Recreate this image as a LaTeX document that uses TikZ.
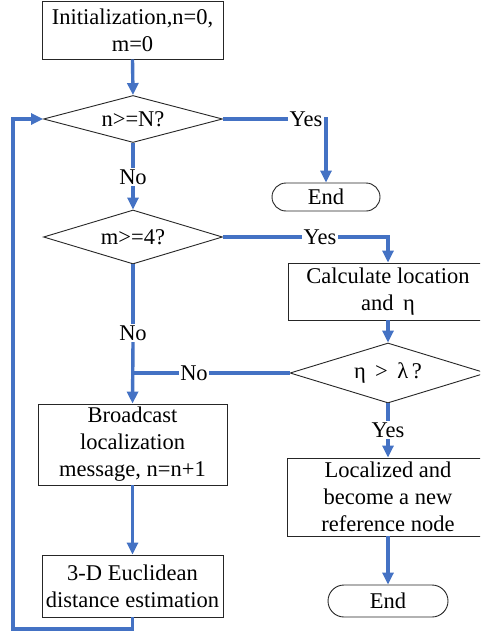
\documentclass[tikz,border=0pt]{standalone}
\usepackage{fontspec}
\setmainfont{Liberation Serif}
\usetikzlibrary{shapes.geometric,shapes.misc,arrows.meta}
\definecolor{flowblue}{RGB}{68,114,196}
\begin{document}
\begin{tikzpicture}[x=1pt,y=-1pt,
  every node/.style={font=\fontsize{22.5}{27}\selectfont, inner sep=0pt},
  procbox/.style={draw=black!85, line width=0.9pt, rectangle, align=center},
  decbox/.style={draw=black!85, line width=0.9pt, diamond, aspect=3.5},
  termbox/.style={draw=black!85, line width=0.9pt, rounded rectangle},
  lbl/.style={fill=white, inner sep=1.5pt},
  flow/.style={draw=flowblue, line width=3.4pt, line join=miter},
  arr/.style={flow, -{Triangle[length=12pt,width=11pt]}}
]
\useasboundingbox (0,0) rectangle (480,634);
\clip (0,0) rectangle (480,634);
\fill[white] (0,0) rectangle (480,634);

% nodes
\node[procbox, minimum width=181pt, minimum height=58pt] (init) at (132.5,30) {Initialization,n=0,\\m=0};
\node[decbox, minimum width=179pt, minimum height=47pt] (d1) at (133,119) {n>=N?};
\node[decbox, minimum width=179pt, minimum height=54pt] (d2) at (133,237) {m>=4?};
\node[termbox, minimum width=108pt, minimum height=28pt] (end1) at (326,197) {End};
\node[procbox, minimum width=200pt, minimum height=57pt] (calc) at (388,291.5) {Calculate location\\and \,η};
\node[decbox, minimum width=196pt, minimum height=60pt] (d3) at (388,373) {η \,>\, λ\,?};
\node[procbox, minimum width=189pt, minimum height=81pt] (bc) at (132.5,444.5) {Broadcast\\localization\\message, n=n+1};
\node[procbox, minimum width=181pt, minimum height=62pt] (ed) at (132.5,586) {3-D Euclidean\\distance estimation};
\node[procbox, minimum width=202pt, minimum height=78pt] (loc) at (388,497) {Localized and\\become a new\\reference node};
\node[termbox, minimum width=120pt, minimum height=32pt] (end2) at (388,601) {End};

% labels
\node[lbl] (no1) at (133,177) {No};
\node[lbl] (yes1) at (306,119) {Yes};
\node[lbl] (yes2) at (320,237) {Yes};
\node[lbl] (no2) at (133,333) {No};
\node[lbl] (no3) at (194,373) {No};
\node[lbl] (yes3) at (388,430) {Yes};

\coordinate (j) at (133,373);
\coordinate (lp) at (13,629);

% connectors
\draw[arr] (init.south) -- (d1.north);
\draw[flow] (d1.south) -- (no1.north);
\draw[arr] (no1.south) -- (d2.north);
\draw[flow] (d1.east) -- (yes1.west);
\draw[arr] (yes1.east) -| (end1.north);
\draw[flow] (d2.east) -- (yes2.west);
\draw[arr] (yes2.east) -| (calc.north);
\draw[arr] (calc.south) -- (d3.north);
\draw[flow] (d3.west) -- (no3.east);
\draw[flow] (no3.west) -- (j);
\draw[flow] (d2.south) -- (no2.north);
\draw[arr] (no2.south) -- (bc.north);
\draw[flow] (d3.south) -- (yes3.north);
\draw[arr] (yes3.south) -- (loc.north);
\draw[arr] (loc.south) -- (end2.north);
\draw[arr] (bc.south) -- (ed.north);
\draw[arr] (ed.south) |- (lp) |- (d1.west);
\end{tikzpicture}
\end{document}
